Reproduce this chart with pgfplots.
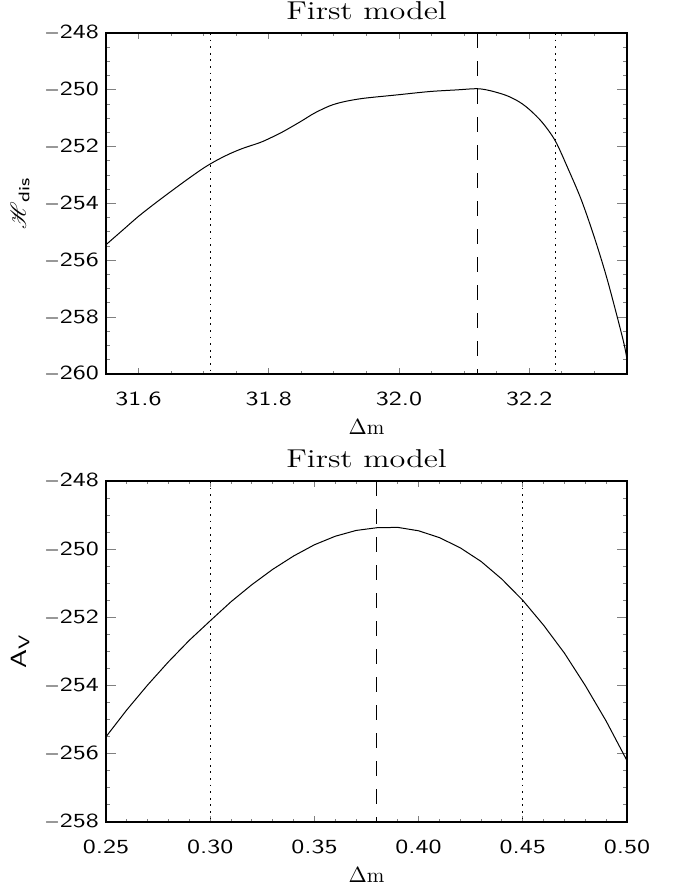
\documentclass[border=0pt]{standalone}
\usepackage{fontspec}
\usepackage{mathrsfs}
\usepackage{pgfplots}
\pgfplotsset{compat=1.18}
\newfontfamily\ticksf[FakeStretch=1.3]{Latin Modern Sans}
\newfontfamily\titlerm[FakeStretch=1.25]{Latin Modern Roman}

\pgfplotsset{
  panel/.style={
    scale only axis, width=260.5pt, height=170.5pt,
    anchor=south west,
    axis line style={line width=0.6pt},
    tick align=inside,
    xtick style={line width=0.5pt, /pgfplots/major tick length=2.9pt, /pgfplots/minor tick length=1.5pt},
    ytick style={line width=0.5pt, /pgfplots/major tick length=5pt, /pgfplots/minor tick length=2.2pt},
    tick label style={font=\ticksf\fontsize{10}{11}\selectfont},
    xticklabel style={anchor=center, yshift=-12.3pt},
    title style={font=\titlerm\fontsize{12.9}{14}\selectfont, at={(0.5,1)}, anchor=base, yshift=1pt},
    xlabel style={font=\fontsize{10.5}{12}\selectfont, at={(axis description cs:0.5,0)}, anchor=center, yshift=-26.5pt},
    ylabel style={font=\fontsize{11}{12}\selectfont, at={(axis description cs:-0.165,0.5)}, anchor=center},
  },
  curve/.style={black, line width=0.5pt, no marks},
  dotv/.style={black, line width=0.5pt, no marks, dash pattern=on 0.9pt off 2.4pt},
  dashv/.style={black, line width=0.5pt, no marks, dash pattern=on 7.5pt off 6.5pt},
}

\begin{document}
\begin{tikzpicture}
\useasboundingbox (0,0) rectangle (336.5pt,-444pt);

% ---- top panel: distance modulus ----
\begin{axis}[panel,
  at={(53pt,-187pt)},
  title={First model},
  xlabel={$\Delta$m},
  ylabel={$\mathscr{H}$\textsubscript{\ticksf dis}},
  xmin=31.55, xmax=32.35,
  ymin=-260, ymax=-248,
  xtick={31.6,31.8,32.0,32.2},
  xticklabels={31.6,31.8,32.0,32.2},
  minor xtick={31.55,31.65,31.7,31.75,31.85,31.9,31.95,32.05,32.1,32.15,32.25,32.3,32.35},
  ytick={-260,-258,-256,-254,-252,-250,-248},
  yticklabels={$-$260,$-$258,$-$256,$-$254,$-$252,$-$250,$-$248},
  minor ytick={-259.5,-259,-258.5,-257.5,-257,-256.5,-255.5,-255,-254.5,-253.5,-253,-252.5,-251.5,-251,-250.5,-249.5,-249,-248.5},
]
\addplot[curve, smooth, tension=0.5] coordinates {
  (31.55,-255.45) (31.575,-254.95) (31.60,-254.45) (31.625,-254.00)
  (31.65,-253.57) (31.675,-253.15) (31.70,-252.75) (31.72,-252.48)
  (31.74,-252.25) (31.76,-252.06) (31.786,-251.86) (31.80,-251.72)
  (31.822,-251.47) (31.85,-251.10) (31.87,-250.82) (31.894,-250.56)
  (31.915,-250.42) (31.945,-250.30) (31.996,-250.18) (32.047,-250.06)
  (32.09,-250.00) (32.12,-249.96) (32.14,-250.03) (32.165,-250.20)
  (32.185,-250.43) (32.201,-250.71) (32.22,-251.15) (32.24,-251.80)
  (32.26,-252.80) (32.28,-253.88) (32.30,-255.20) (32.32,-256.70)
  (32.344,-258.80) (32.35,-259.50)
};
\addplot[dotv] coordinates {(31.71,-248) (31.71,-260)};
\addplot[dashv] coordinates {(32.12,-248) (32.12,-260)};
\addplot[dotv] coordinates {(32.24,-248) (32.24,-260)};
\end{axis}

% ---- bottom panel: extinction ----
\begin{axis}[panel,
  at={(53pt,-411pt)},
  title={First model},
  xlabel={$\Delta$m},
  ylabel={{\ticksf A}\textsubscript{\ticksf V}},
  xmin=0.25, xmax=0.50,
  ymin=-258, ymax=-248,
  xtick={0.25,0.30,0.35,0.40,0.45,0.50},
  xticklabels={0.25,0.30,0.35,0.40,0.45,0.50},
  minor xtick={0.26,0.27,0.28,0.29,0.31,0.32,0.33,0.34,0.36,0.37,0.38,0.39,0.41,0.42,0.43,0.44,0.46,0.47,0.48,0.49},
  ytick={-258,-256,-254,-252,-250,-248},
  yticklabels={$-$258,$-$256,$-$254,$-$252,$-$250,$-$248},
  minor ytick={-257.5,-257,-256.5,-255.5,-255,-254.5,-253.5,-253,-252.5,-251.5,-251,-250.5,-249.5,-249,-248.5},
]
\addplot[curve] coordinates {
  (0.25,-255.50) (0.26,-254.71) (0.27,-253.98) (0.28,-253.30)
  (0.29,-252.67) (0.30,-252.10) (0.31,-251.54) (0.32,-251.04)
  (0.33,-250.59) (0.34,-250.20) (0.35,-249.87) (0.36,-249.62)
  (0.37,-249.45) (0.38,-249.37) (0.39,-249.36) (0.40,-249.46)
  (0.41,-249.66) (0.42,-249.96) (0.43,-250.36) (0.44,-250.88)
  (0.45,-251.50) (0.46,-252.23) (0.47,-253.05) (0.48,-254.00)
  (0.49,-255.04) (0.50,-256.20)
};
\addplot[dotv] coordinates {(0.30,-248) (0.30,-258)};
\addplot[dashv] coordinates {(0.38,-248) (0.38,-258)};
\addplot[dotv] coordinates {(0.45,-248) (0.45,-258)};
\end{axis}
\end{tikzpicture}
\end{document}
